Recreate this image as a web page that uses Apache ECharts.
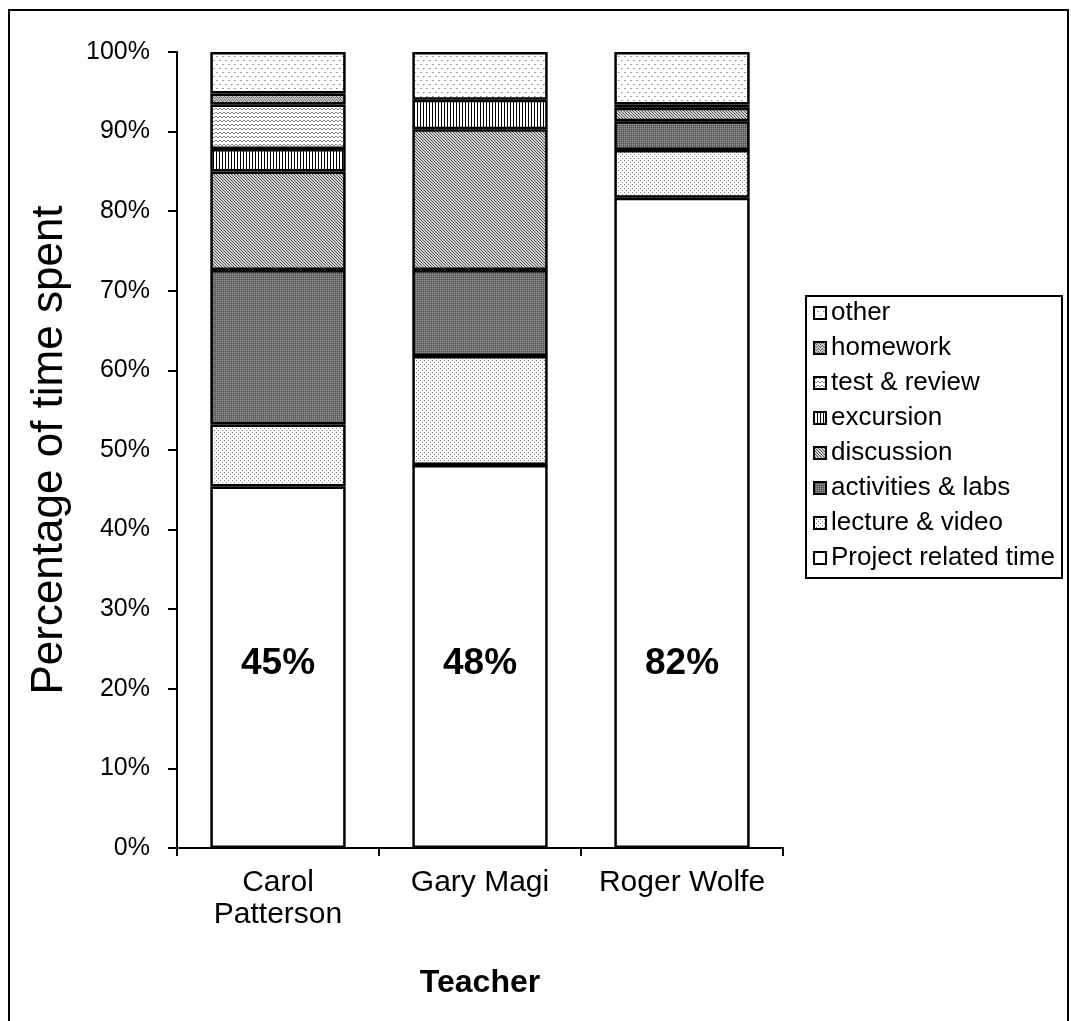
<!DOCTYPE html>
<html>
<head>
<meta charset="utf-8">
<title>Percentage of time spent by teacher</title>
<script src="https://cdn.jsdelivr.net/npm/echarts@6/dist/echarts.min.js"></script>
<style>
  html, body { margin: 0; padding: 0; background: #ffffff; }
  #chart { width: 1071px; height: 1021px; }
</style>
</head>
<body>
<div id="chart"></div>
<script>
// Teachers on the category axis
const teachers = ['Carol\nPatterson', 'Gary Magi', 'Roger Wolfe'];

// Share of class time (%) per activity, one value per teacher
const projectTime  = [45.4, 48.1, 81.7];
const lectureVideo = [7.8, 13.7, 6.0];
const activities   = [19.4, 10.8, 3.6];
const discussion   = [12.4, 17.7, 1.7];
const excursion    = [2.8, 3.7, 0];
const testReview   = [5.6, 0, 0];
const homework     = [1.4, 0, 0.4];
const other        = [5.2, 6.0, 6.6];

// Value axis ticks
const yTicks = { min: 0, max: 100, interval: 10 };

const FONT = "'Liberation Sans', Arial, sans-serif";

// Small bitmap tiles used as hatch fills
function tile(w, h, bg, marks) {
  const c = document.createElement('canvas');
  c.width = w; c.height = h;
  const g = c.getContext('2d');
  g.fillStyle = bg; g.fillRect(0, 0, w, h);
  marks.forEach(function (m) { g.fillStyle = m[2]; g.fillRect(m[0], m[1], 1, 1); });
  return { image: c, repeat: 'repeat' };
}

const fills = {
  project: '#ffffff',
  lecture: tile(4, 4, '#ffffff', [[0, 0, '#7a7a7a'], [2, 2, '#7a7a7a']]),
  activities: tile(2, 2, '#6a6a6a', [[0, 0, '#969696'], [1, 1, '#5a5a5a']]),
  discussion: tile(3, 3, '#d2d2d2', [[0, 0, '#555555'], [1, 1, '#555555'], [2, 2, '#555555']]),
  excursion: tile(3, 1, '#ffffff', [[0, 0, '#000000']]),
  testReview: tile(4, 4, '#ffffff', [[0, 0, '#8a8a8a'], [1, 1, '#8a8a8a'], [2, 1, '#8a8a8a'], [3, 0, '#8a8a8a']]),
  homework: tile(4, 3, '#c4c4c4', [[0, 0, '#6a6a6a'], [1, 1, '#6a6a6a'], [2, 2, '#6a6a6a'], [3, 1, '#6a6a6a']]),
  other: tile(6, 8, '#ffffff', [[0, 0, '#8c8c8c'], [1, 0, '#b0b0b0'], [3, 4, '#8c8c8c'], [4, 4, '#b0b0b0']])
};

// Zero shares are left out so they draw no sliver
function clean(arr) { return arr.map(function (v) { return v === 0 ? '-' : v; }); }

function layer(name, values, fill, extra) {
  return Object.assign({
    name: name,
    type: 'bar',
    stack: 'total',
    barCategoryGap: '33%',
    data: clean(values),
    itemStyle: { color: fill, borderColor: '#000000', borderWidth: 2.5 },
    emphasis: { disabled: true }
  }, extra || {});
}

const series = [
  layer('Project related time', projectTime, fills.project, {
    label: {
      show: true,
      position: 'insideBottom',
      distance: 166,
      fontFamily: FONT,
      fontSize: 37,
      fontWeight: 'bold',
      color: '#000000',
      formatter: function (p) { return Math.round(p.value) + '%'; }
    }
  }),
  layer('lecture & video', lectureVideo, fills.lecture),
  layer('activities & labs', activities, fills.activities),
  layer('discussion', discussion, fills.discussion),
  layer('excursion', excursion, fills.excursion),
  layer('test & review', testReview, fills.testReview),
  layer('homework', homework, fills.homework),
  layer('other', other, fills.other)
];

const chart = echarts.init(document.getElementById('chart'), null, { renderer: 'canvas' });

const blackLine = { color: '#000000', width: 2 };

chart.setOption({
  animation: false,
  backgroundColor: '#ffffff',
  textStyle: { fontFamily: FONT, color: '#000000' },
  grid: { left: 177, right: 288, top: 52, bottom: 173, containLabel: false },
  legend: {
    orient: 'vertical',
    left: 806,
    top: 296,
    data: series.map(function (s) { return s.name; }).reverse(),
    icon: 'rect',
    itemWidth: 12,
    itemHeight: 12,
    itemGap: 9,
    padding: [4, 7, 7, 7],
    borderColor: '#000000',
    borderWidth: 2,
    borderRadius: 0,
    itemStyle: { borderColor: '#000000', borderWidth: 2 },
    textStyle: { fontFamily: FONT, fontSize: 26, color: '#000000', lineHeight: 26 },
    selectedMode: false
  },
  xAxis: {
    type: 'category',
    data: teachers,
    name: 'Teacher',
    nameLocation: 'middle',
    nameGap: 119,
    nameTextStyle: { fontFamily: FONT, fontSize: 32, fontWeight: 'bold', color: '#000000' },
    axisLine: { lineStyle: blackLine },
    axisTick: { show: true, length: 8, lineStyle: blackLine },
    axisLabel: { interval: 0, fontFamily: FONT, fontSize: 30, lineHeight: 32, color: '#000000', margin: 19 },
    splitLine: { show: false }
  },
  yAxis: {
    type: 'value',
    min: yTicks.min,
    max: yTicks.max,
    interval: yTicks.interval,
    name: 'Percentage of time spent',
    nameLocation: 'middle',
    nameGap: 105,
    nameTextStyle: { fontFamily: FONT, fontSize: 44, color: '#000000' },
    axisLine: { show: true, lineStyle: blackLine },
    axisTick: { show: true, length: 9, lineStyle: blackLine },
    axisLabel: { fontFamily: FONT, fontSize: 25, color: '#000000', margin: 27, formatter: '{value}%' },
    splitLine: { show: false }
  },
  series: series,
  graphic: [{
    // outer frame round the whole chart
    type: 'rect',
    silent: true,
    z: -1,
    shape: { x: 9, y: 10, width: 1059, height: 1040 },
    style: { fill: 'none', stroke: '#000000', lineWidth: 2 }
  }]
});
</script>
</body>
</html>
